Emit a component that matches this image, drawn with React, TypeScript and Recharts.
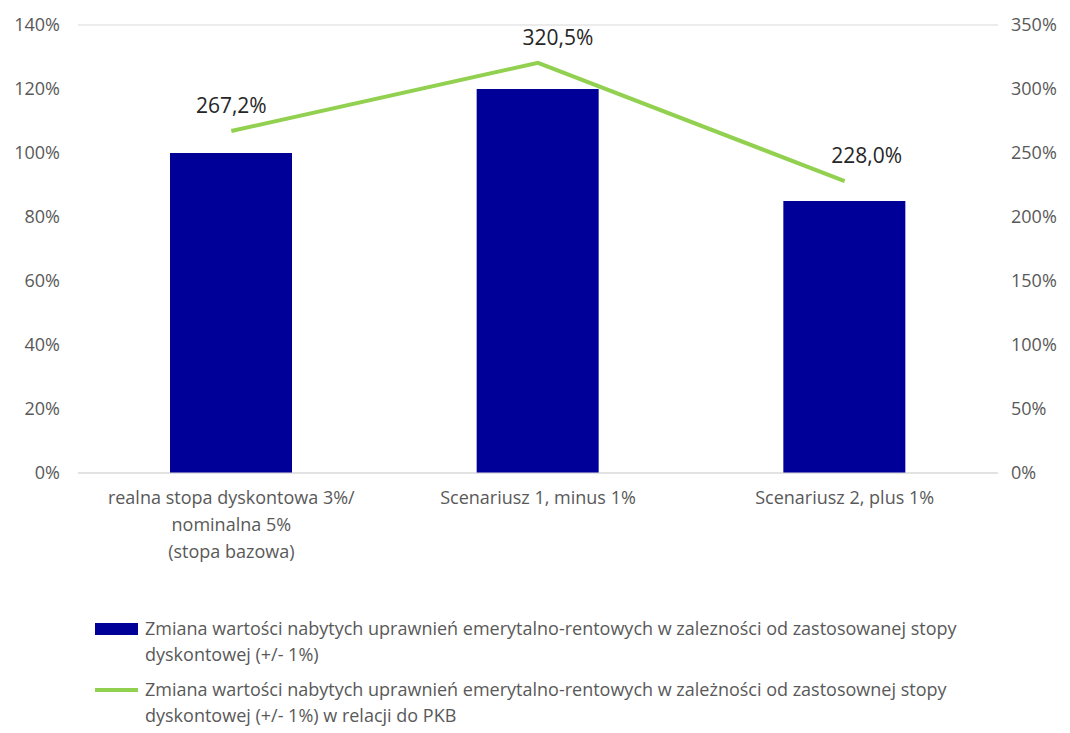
import React from 'react';
import {
  ComposedChart,
  Bar,
  Line,
  XAxis,
  YAxis,
  CartesianGrid,
  Legend,
  LabelList,
} from 'recharts';

document.body.style.margin = '0';

const categories = [
  'realna stopa dyskontowa 3%/\nnominalna 5%\n(stopa bazowa)',
  'Scenariusz 1, minus 1%',
  'Scenariusz 2, plus 1%',
];
const barValues = [100, 120, 85];
const lineValues = [267.2, 320.5, 228.0];
const leftTicks = [0, 20, 40, 60, 80, 100, 120, 140];
const rightTicks = [0, 50, 100, 150, 200, 250, 300, 350];

const barName =
  'Zmiana wartości nabytych uprawnień emerytalno-rentowych w zalezności od zastosowanej stopy dyskontowej (+/- 1%)';
const lineName =
  'Zmiana wartości nabytych uprawnień emerytalno-rentowych w zależności od zastosownej stopy dyskontowej (+/- 1%) w relacji do PKB';

const data = categories.map((name, i) => ({
  name,
  bar: barValues[i],
  line: lineValues[i],
}));

const FONT = '"Open Sans", sans-serif';
const GREY = '#595959';
const labelDx = [0, 20, 22];

const CategoryTick = (props: any) => {
  const { x, y, payload } = props;
  const lines = String(payload.value).split('\n');
  return (
    <text x={x} y={y} textAnchor="middle" fill={GREY} fontSize={18} fontFamily={FONT}>
      {lines.map((l, i) => (
        <tspan key={i} x={x} dy={i === 0 ? 23 : 27}>
          {l}
        </tspan>
      ))}
    </text>
  );
};

const PointLabel = (props: any) => {
  const { x, y, value, index } = props;
  return (
    <text
      x={x + labelDx[index]}
      y={y - 18}
      textAnchor="middle"
      fill="#262626"
      fontSize={21}
      fontFamily={FONT}
    >
      {value.toFixed(1).replace('.', ',') + '%'}
    </text>
  );
};

const ChartLegend = () => (
  <div style={{ height: 118, fontFamily: FONT, fontSize: 18, color: GREY, lineHeight: '26px' }}>
    <div style={{ display: 'flex', alignItems: 'flex-start', marginLeft: 95, marginTop: 6 }}>
      <div style={{ width: 43, height: 12, background: '#000099', marginTop: 8, marginRight: 7, flexShrink: 0 }} />
      <div style={{ width: 870 }}>{barName}</div>
    </div>
    <div style={{ display: 'flex', alignItems: 'flex-start', marginLeft: 95, marginTop: 9 }}>
      <div style={{ width: 43, height: 4, background: '#92d050', marginTop: 12, marginRight: 7, flexShrink: 0 }} />
      <div style={{ width: 870 }}>{lineName}</div>
    </div>
  </div>
);

const App: React.FC = () => {
  return (
    <div style={{ width: 1070, height: 733, background: '#fff' }}>
      <ComposedChart
        width={1070}
        height={733}
        data={data}
        margin={{ top: 25, right: 0, bottom: 0, left: 0 }}
      >
        <CartesianGrid vertical={false} stroke="#d9d9d9" />
        <XAxis
          dataKey="name"
          tick={<CategoryTick />}
          interval={0}
          tickLine={false}
          axisLine={{ stroke: '#d9d9d9' }}
          height={136}
        />
        <YAxis
          yAxisId="left"
          domain={[0, 140]}
          ticks={leftTicks}
          tickFormatter={(v) => `${v}%`}
          width={78}
          axisLine={false}
          tickLine={false}
          tick={{ fill: GREY, fontSize: 18, fontFamily: FONT, dx: -10 }}
        />
        <YAxis
          yAxisId="right"
          orientation="right"
          domain={[0, 350]}
          ticks={rightTicks}
          tickFormatter={(v) => `${v}%`}
          width={72}
          axisLine={false}
          tickLine={false}
          tick={{ fill: GREY, fontSize: 18, fontFamily: FONT, dx: 5 }}
        />
        <Bar yAxisId="left" dataKey="bar" name={barName} fill="#000099" barSize={122} isAnimationActive={false} />
        <Line
          yAxisId="right"
          dataKey="line"
          name={lineName}
          stroke="#92d050"
          strokeWidth={4}
          dot={false}
          isAnimationActive={false}
        >
          <LabelList dataKey="line" content={<PointLabel />} />
        </Line>
        <Legend verticalAlign="bottom" content={<ChartLegend />} />
      </ComposedChart>
    </div>
  );
};

export default App;
